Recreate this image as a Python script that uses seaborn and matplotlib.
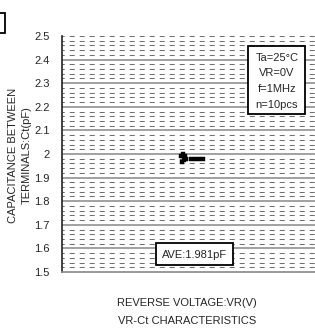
import pandas as pd
import numpy as np
import seaborn as sns
import matplotlib.pyplot as plt
from matplotlib.patches import Rectangle

# measured Ct values (pF), 10 pcs at VR=0V
sample_x = [1.28, 1.29, 1.30, 1.31, 1.32, 1.33, 1.38, 1.425, 1.47, 1.515]
ct_values = [1.990, 1.968, 2.000, 1.975, 1.993, 1.979, 1.980, 1.980, 1.980, 1.980]
y_ticks = [1.5, 1.6, 1.7, 1.8, 1.9, 2.0, 2.1, 2.2, 2.3, 2.4, 2.5]
y_tick_labels = ['1.5', '1.6', '1.7', '1.8', '1.9', '2', '2.1', '2.2', '2.3', '2.4', '2.5']
conditions = ['Ta=25°C', 'VR=0V', 'f=1MHz', 'n=10pcs']
ave_text = 'AVE:1.981pF'

sns.set_style('white')
plt.rcParams['font.family'] = ['Liberation Sans Narrow', 'Liberation Sans', 'DejaVu Sans']
plt.rcParams['lines.scale_dashes'] = False

W, H = 315, 333
fig = plt.figure(figsize=(W / 100, H / 100), dpi=100)
ax = fig.add_axes([62 / W, 61 / H, 280 / W, 236 / H])

df = pd.DataFrame({'x': sample_x, 'ct': ct_values})

ax.set_ylim(1.5, 2.5)
ax.set_xlim(0, 3.0)

# minor dashed grid every 0.02
for v in np.arange(1.52, 2.501, 0.02):
    if abs(v * 10 - round(v * 10)) < 1e-6 and v < 2.49:
        continue
    ax.axhline(v, color='#707070', lw=0.75, ls=(2, (3.6, 3.6)), zorder=1)
for v in y_ticks[1:-1]:
    ax.axhline(v, color='#9a9a9a', lw=1.3, zorder=1)

sns.scatterplot(data=df, x='x', y='ct', ax=ax, marker='s', s=9, color='black',
                edgecolor='black', linewidth=0.3, zorder=5, legend=False)

ax.set_yticks(y_ticks)
ax.set_yticklabels(y_tick_labels, fontsize=8)
ax.set_xticks([1, 2])
ax.set_xticklabels([])
ax.tick_params(axis='x', direction='in', length=4, color='#777777', width=1)
ax.tick_params(axis='y', direction='in', length=3, pad=9, color='#333333', width=1)
ax.set_xlabel('')
ax.set_ylabel('')

for s in ['top', 'right']:
    ax.spines[s].set_visible(False)
ax.spines['left'].set_color('#222222')
ax.spines['left'].set_linewidth(1.2)
ax.spines['bottom'].set_color('#888888')
ax.spines['bottom'].set_linewidth(1.2)

# condition box
fig.patches.append(Rectangle((248 / W, 1 - 114 / H), 57 / W, 68 / H, transform=fig.transFigure,
                             facecolor='white', edgecolor='black', lw=1.3, zorder=10))
for i, t in enumerate(conditions):
    fig.text(277 / W, 1 - (58 + 15.5 * i) / H, t, ha='center', va='center', fontsize=8, zorder=11)

# average box
fig.patches.append(Rectangle((156 / W, 1 - 265 / H), 77 / W, 22 / H, transform=fig.transFigure,
                             facecolor='white', edgecolor='black', lw=1.3, zorder=10))
fig.text(195 / W, 1 - 255 / H, ave_text, ha='center', va='center', fontsize=8, zorder=11)

# clipped box at top left
fig.patches.append(Rectangle((-5 / W, 1 - 33 / H), 10 / W, 20 / H, transform=fig.transFigure,
                             facecolor='white', edgecolor='black', lw=1.3))

fig.text(13 / W, 1 - 155 / H, 'CAPACITANCE BETWEEN', rotation=90,
         ha='center', va='center', fontsize=8)
fig.text(27 / W, 1 - 155 / H, 'TERMINALS:Ct(pF)', rotation=90, ha='center', va='center', fontsize=8)
fig.text(187 / W, 1 - 303 / H, 'REVERSE VOLTAGE:VR(V)', ha='center', va='center', fontsize=8)
fig.text(187 / W, 1 - 321 / H, 'VR-Ct CHARACTERISTICS', ha='center', va='center', fontsize=8)

fig.savefig('out.png', dpi=100)
